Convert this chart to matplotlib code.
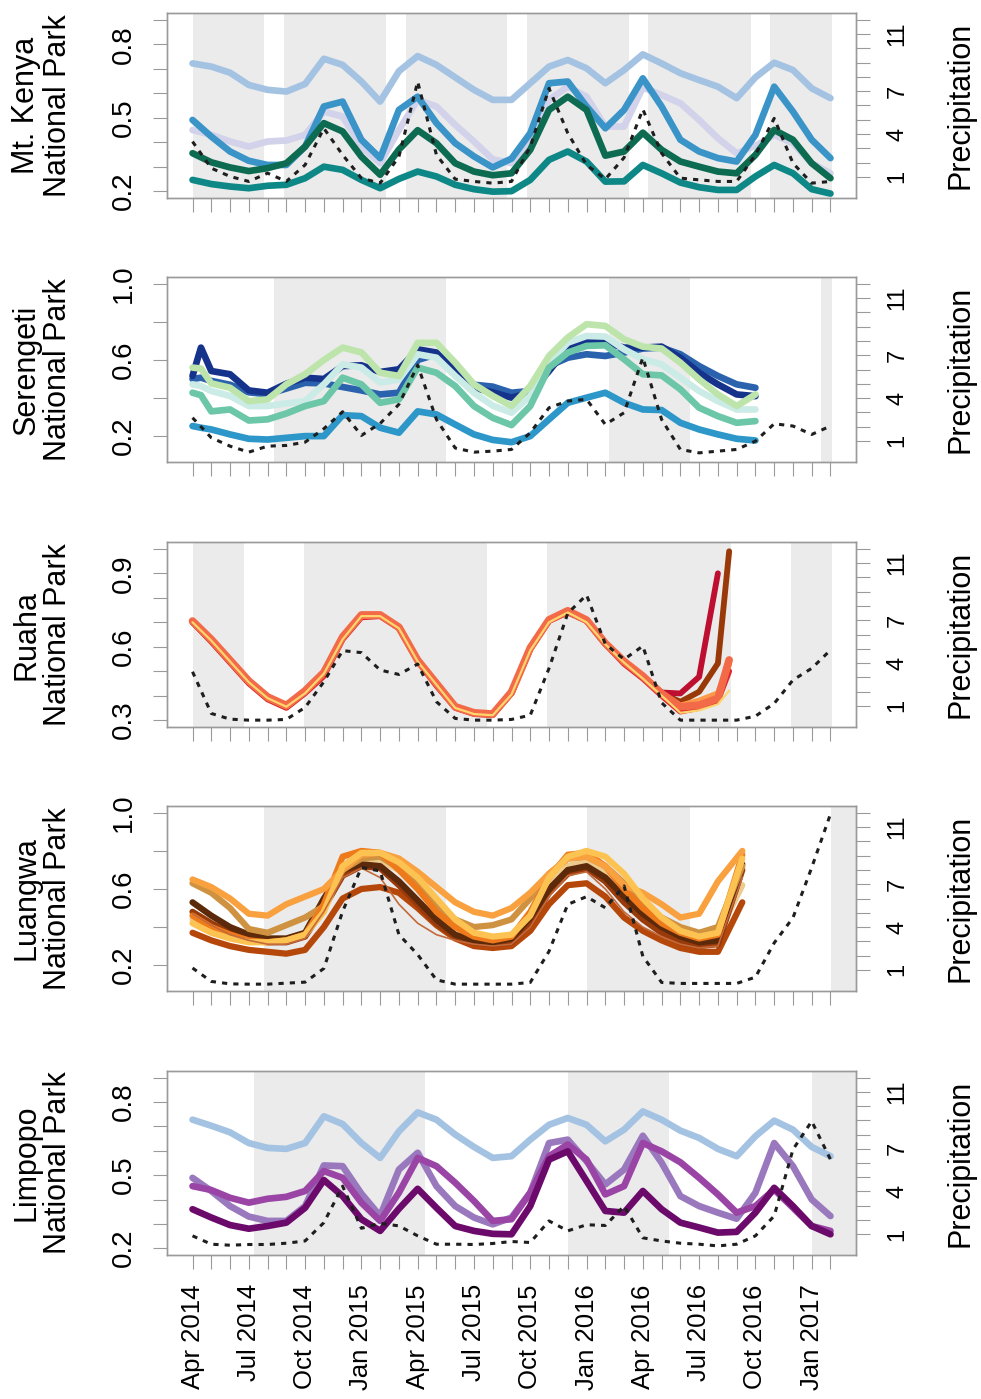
import matplotlib
matplotlib.use("Agg")
import matplotlib.pyplot as plt
import numpy as np

plt.rcParams['font.family'] = ['Liberation Sans', 'DejaVu Sans']

nan = np.nan

# month index: 0 = Apr 2014 ... 34 = Feb 2017
months = list(range(35))
date_labels = ["Apr 2014", "Jul 2014", "Oct 2014", "Jan 2015", "Apr 2015", "Jul 2015",
               "Oct 2015", "Jan 2016", "Apr 2016", "Jul 2016", "Oct 2016", "Jan 2017"]

# ---- Mt. Kenya ----
mk_months = list(range(35))
mk_lightblue = [0.722, 0.709, 0.684, 0.634, 0.614, 0.607, 0.638, 0.741, 0.716, 0.648, 0.566, 0.690,
                0.752, 0.716, 0.665, 0.614, 0.573, 0.573, 0.641, 0.709, 0.736, 0.702, 0.641, 0.695,
                0.759, 0.722, 0.682, 0.654, 0.627, 0.580, 0.665, 0.725, 0.695, 0.620, 0.580]
mk_blue = [0.491, 0.423, 0.362, 0.324, 0.307, 0.307, 0.382, 0.546, 0.566, 0.410, 0.335, 0.532,
           0.586, 0.478, 0.396, 0.342, 0.297, 0.333, 0.437, 0.641, 0.648, 0.546, 0.457, 0.532,
           0.661, 0.546, 0.410, 0.362, 0.335, 0.321, 0.430, 0.627, 0.525, 0.410, 0.335]
mk_lavender = [0.450, 0.430, 0.403, 0.382, 0.403, 0.407, 0.430, 0.525, 0.505, 0.382, 0.314, 0.450,
               0.573, 0.546, 0.471, 0.403, 0.330, 0.314, 0.410, 0.573, 0.627, 0.586, 0.464, 0.464,
               0.624, 0.593, 0.559, 0.491, 0.416, 0.355, 0.385, 0.430, 0.396, 0.314, 0.273]
mk_green = [0.355, 0.318, 0.297, 0.282, 0.294, 0.314, 0.382, 0.478, 0.444, 0.341, 0.267, 0.370,
            0.449, 0.396, 0.314, 0.280, 0.265, 0.273, 0.369, 0.532, 0.586, 0.532, 0.345, 0.362,
            0.439, 0.369, 0.321, 0.300, 0.280, 0.273, 0.348, 0.450, 0.410, 0.314, 0.253]
mk_teal = [0.246, 0.229, 0.219, 0.212, 0.222, 0.226, 0.253, 0.300, 0.287, 0.246, 0.212, 0.250,
           0.280, 0.260, 0.226, 0.208, 0.198, 0.200, 0.246, 0.328, 0.362, 0.321, 0.239, 0.240,
           0.307, 0.273, 0.235, 0.216, 0.205, 0.205, 0.260, 0.307, 0.273, 0.208, 0.190]
mk_rain = [3.47, 1.61, 1.03, 0.68, 1.26, 0.68, 1.84, 4.40, 2.54, 0.91, 0.56, 2.42,
           7.67, 2.54, 0.84, 0.68, 0.56, 0.68, 3.12, 7.20, 4.06, 1.84, 0.84, 2.35,
           5.73, 2.66, 0.91, 0.79, 0.68, 0.68, 2.54, 5.10, 1.96, 0.56, 0.68]
mk_bands = [(0, 3.8), (4.87, 10.3), (11.37, 16.77), (17.84, 23.24), (24.3, 29.74), (30.8, 34.06)]

# ---- Serengeti (extra mid-April 2014 composite) ----
ser_months = [0, 0.45] + list(range(1, 31))
ser_navy = [0.516, 0.665, 0.542, 0.525, 0.440, 0.428, 0.475, 0.507, 0.500, 0.568, 0.572, 0.537, 0.551,
            0.656, 0.639, 0.542, 0.454, 0.430, 0.402, 0.428, 0.542, 0.665, 0.700, 0.691, 0.665,
            0.665, 0.670, 0.612, 0.533, 0.472, 0.419, 0.410]
ser_royal = [0.500, 0.507, 0.490, 0.470, 0.430, 0.420, 0.450, 0.480, 0.477, 0.458, 0.440, 0.419, 0.428,
             0.600, 0.630, 0.550, 0.470, 0.460, 0.428, 0.437, 0.568, 0.612, 0.630, 0.621, 0.639,
             0.660, 0.665, 0.630, 0.568, 0.516, 0.472, 0.454]
ser_green = [0.560, 0.555, 0.477, 0.454, 0.384, 0.393, 0.472, 0.525, 0.600, 0.665, 0.640, 0.533, 0.516,
             0.690, 0.690, 0.586, 0.472, 0.411, 0.358, 0.463, 0.621, 0.718, 0.788, 0.779, 0.709,
             0.670, 0.660, 0.586, 0.498, 0.419, 0.358, 0.419]
ser_cyan = [0.472, 0.463, 0.437, 0.411, 0.358, 0.358, 0.372, 0.384, 0.472, 0.577, 0.560, 0.481, 0.498,
            0.630, 0.612, 0.516, 0.428, 0.360, 0.323, 0.411, 0.586, 0.691, 0.726, 0.723, 0.656,
            0.604, 0.577, 0.507, 0.437, 0.384, 0.340, 0.340]
ser_aqua = [0.428, 0.415, 0.330, 0.340, 0.282, 0.288, 0.319, 0.358, 0.384, 0.507, 0.472, 0.375, 0.393,
            0.560, 0.533, 0.463, 0.358, 0.296, 0.258, 0.358, 0.560, 0.639, 0.674, 0.677, 0.604,
            0.525, 0.519, 0.446, 0.349, 0.305, 0.270, 0.279]
ser_blue = [0.253, 0.244, 0.235, 0.209, 0.186, 0.182, 0.191, 0.200, 0.200, 0.310, 0.305, 0.244, 0.218,
            0.330, 0.314, 0.261, 0.209, 0.180, 0.168, 0.200, 0.288, 0.375, 0.402, 0.428, 0.375,
            0.340, 0.337, 0.270, 0.235, 0.209, 0.186, 0.177]
ser_rain = [2.62, 1.22, 0.63, 0.21, 0.63, 0.68, 0.91, 1.85, 3.04, 1.38, 2.22, 3.56,
            6.30, 2.50, 0.50, 0.21, 0.28, 0.40, 1.57, 3.32, 3.79, 3.91, 2.15, 2.97,
            6.83, 2.50, 0.40, 0.16, 0.28, 0.40, 0.98, 2.20, 2.04, 1.45, 2.04]
ser_bands = [(4.33, 13.5), (22.17, 26.5), (33.5, 34.06)]

# ---- Ruaha (last composite mid-August 2016) ----
ru_months = list(range(29)) + [28.6]
ru_coral = [0.705, 0.630, 0.545, 0.460, 0.395, 0.360, 0.420, 0.495, 0.640, 0.730, 0.730, 0.680,
            0.545, 0.450, 0.355, 0.330, 0.325, 0.415, 0.595, 0.710, 0.747, 0.709, 0.614, 0.540,
            0.480, 0.409, 0.355, 0.361, 0.389, 0.546]
ru_yellow = [0.700, 0.625, 0.540, 0.455, 0.390, 0.355, 0.410, 0.490, 0.630, 0.725, 0.725, 0.675,
             0.540, 0.445, 0.350, 0.325, 0.320, 0.405, 0.585, 0.700, 0.740, 0.700, 0.610, 0.535,
             0.470, 0.400, 0.330, 0.340, 0.365, 0.420]
ru_red = [0.700, 0.620, 0.535, 0.450, 0.385, 0.350, 0.410, 0.480, 0.630, 0.720, 0.725, 0.675,
          0.540, 0.440, 0.350, 0.325, 0.320, 0.410, 0.590, 0.705, 0.740, 0.705, 0.610, 0.530,
          0.470, 0.400, 0.335, 0.350, 0.380, 0.500]
ru_orange = [0.700, 0.625, 0.540, 0.455, 0.390, 0.355, 0.415, 0.490, 0.635, 0.725, 0.728, 0.678,
             0.543, 0.448, 0.352, 0.328, 0.322, 0.410, 0.590, 0.707, 0.744, 0.706, 0.612, 0.537,
             0.478, 0.410, 0.360, 0.380, 0.410, 0.530]
ru_brown = [0.700, 0.625, 0.540, 0.455, 0.390, 0.355, 0.420, 0.490, 0.635, 0.725, 0.728, 0.678,
            0.545, 0.450, 0.355, 0.330, 0.325, 0.410, 0.595, 0.708, 0.745, 0.708, 0.615, 0.540,
            0.480, 0.410, 0.375, 0.416, 0.532, 0.990]
ru_crimson = [0.700, 0.625, 0.540, 0.455, 0.390, 0.355, 0.415, 0.490, 0.635, 0.725, 0.728, 0.678,
              0.543, 0.448, 0.352, 0.328, 0.322, 0.410, 0.590, 0.707, 0.744, 0.706, 0.612, 0.537,
              0.477, 0.413, 0.409, 0.477, 0.900, nan]
ru_rain = [3.39, 0.47, 0.07, 0.00, 0.00, 0.05, 0.89, 2.69, 4.87, 4.73, 3.51, 3.20,
           3.93, 1.29, 0.12, 0.00, 0.00, 0.05, 0.35, 3.63, 7.49, 8.77, 5.33, 4.26,
           5.19, 1.22, 0.00, 0.00, 0.00, 0.00, 0.28, 1.17, 2.81, 3.63, 4.91]
ru_bands = [(0, 2.73), (5.94, 15.7), (18.9, 28.7), (31.9, 34.06)]

# ---- Luangwa (last composite early September 2016) ----
lu_months = list(range(29)) + [29.3]
lu_wheat = [0.44, 0.39, 0.35, 0.33, 0.32, 0.33, 0.36, 0.50, 0.70, 0.75, 0.75, 0.70, 0.60, 0.50, 0.41,
            0.36, 0.34, 0.35, 0.44, 0.62, 0.72, 0.75, 0.70, 0.60, 0.50, 0.42, 0.37, 0.34, 0.36, 0.62]
lu_rust = [0.37, 0.33, 0.30, 0.28, 0.27, 0.26, 0.28, 0.40, 0.55, 0.60, 0.61, 0.58, 0.50, 0.41, 0.34,
           0.30, 0.29, 0.30, 0.38, 0.52, 0.62, 0.63, 0.56, 0.45, 0.38, 0.33, 0.29, 0.27, 0.27, 0.53]
lu_brown = [0.48, 0.42, 0.37, 0.34, 0.32, 0.32, 0.35, 0.50, 0.67, 0.72, 0.71, 0.62, 0.52, 0.42, 0.35,
            0.32, 0.31, 0.32, 0.42, 0.58, 0.68, 0.71, 0.64, 0.53, 0.44, 0.37, 0.32, 0.30, 0.31, 0.70]
lu_thin = [0.47, 0.41, 0.36, 0.33, 0.31, 0.31, 0.34, 0.48, 0.66, 0.71, 0.66, 0.52, 0.42, 0.36, 0.33,
           0.31, 0.30, 0.31, 0.40, 0.56, 0.67, 0.69, 0.60, 0.48, 0.40, 0.35, 0.31, 0.29, 0.30, 0.66]
lu_darkbrown = [0.53, 0.46, 0.40, 0.36, 0.34, 0.34, 0.37, 0.55, 0.70, 0.73, 0.72, 0.64, 0.54, 0.44, 0.36,
                0.33, 0.32, 0.34, 0.45, 0.60, 0.70, 0.72, 0.66, 0.56, 0.47, 0.40, 0.35, 0.32, 0.33, 0.73]
lu_tan = [0.63, 0.58, 0.50, 0.39, 0.37, 0.41, 0.45, 0.51, 0.70, 0.76, 0.77, 0.71, 0.62, 0.51, 0.44,
          0.40, 0.41, 0.44, 0.55, 0.68, 0.76, 0.77, 0.72, 0.63, 0.53, 0.45, 0.40, 0.37, 0.40, 0.72]
lu_orange = [0.46, 0.40, 0.36, 0.33, 0.32, 0.33, 0.36, 0.52, 0.77, 0.80, 0.79, 0.70, 0.60, 0.48, 0.40,
             0.35, 0.33, 0.35, 0.48, 0.66, 0.78, 0.79, 0.72, 0.60, 0.50, 0.42, 0.37, 0.34, 0.36, 0.78]
lu_lightorange = [0.65, 0.61, 0.55, 0.47, 0.46, 0.52, 0.56, 0.60, 0.70, 0.78, 0.79, 0.76, 0.69, 0.61, 0.53,
                  0.48, 0.46, 0.50, 0.58, 0.68, 0.76, 0.77, 0.72, 0.62, 0.58, 0.52, 0.45, 0.47, 0.64, 0.80]
lu_amber = [0.42, 0.37, 0.34, 0.32, 0.32, 0.33, 0.36, 0.48, 0.72, 0.79, 0.79, 0.74, 0.66, 0.55, 0.44,
            0.37, 0.35, 0.36, 0.46, 0.66, 0.77, 0.80, 0.77, 0.68, 0.55, 0.45, 0.38, 0.35, 0.37, 0.76]
lu_rain = [1.13, 0.19, 0.02, 0.00, 0.00, 0.07, 0.14, 1.10, 5.10, 8.17, 7.93, 3.47,
           2.07, 0.30, 0.00, 0.00, 0.00, 0.00, 0.12, 2.30, 5.59, 6.13, 5.35, 6.88,
           1.95, 0.12, 0.05, 0.05, 0.05, 0.05, 0.49, 2.89, 4.65, 8.17, 11.92]
lu_bands = [(3.8, 13.5), (21.05, 26.5), (34.03, 36.0)]

# ---- Limpopo ----
li_months = list(range(35))
li_lightblue = [0.728, 0.703, 0.676, 0.632, 0.612, 0.608, 0.632, 0.742, 0.710, 0.632, 0.571, 0.680,
                0.758, 0.728, 0.667, 0.616, 0.571, 0.578, 0.646, 0.707, 0.735, 0.707, 0.639, 0.687,
                0.762, 0.728, 0.683, 0.653, 0.608, 0.578, 0.660, 0.724, 0.687, 0.616, 0.578]
li_lightpurple = [0.489, 0.435, 0.373, 0.330, 0.312, 0.312, 0.373, 0.540, 0.537, 0.424, 0.332, 0.523,
                  0.592, 0.455, 0.373, 0.326, 0.298, 0.326, 0.428, 0.632, 0.646, 0.557, 0.462, 0.523,
                  0.662, 0.551, 0.414, 0.373, 0.346, 0.321, 0.428, 0.632, 0.537, 0.400, 0.332]
li_purple = [0.455, 0.439, 0.407, 0.387, 0.403, 0.411, 0.435, 0.517, 0.489, 0.387, 0.312, 0.428,
             0.571, 0.537, 0.469, 0.394, 0.312, 0.319, 0.428, 0.578, 0.626, 0.564, 0.421, 0.455,
             0.632, 0.598, 0.553, 0.489, 0.421, 0.346, 0.373, 0.441, 0.366, 0.291, 0.271]
li_dark = [0.360, 0.326, 0.295, 0.280, 0.291, 0.305, 0.366, 0.480, 0.414, 0.319, 0.271, 0.362,
           0.444, 0.366, 0.291, 0.271, 0.259, 0.257, 0.373, 0.564, 0.598, 0.476, 0.353, 0.346,
           0.435, 0.360, 0.305, 0.285, 0.264, 0.267, 0.346, 0.448, 0.373, 0.291, 0.257]
li_rain = [0.87, 0.28, 0.21, 0.26, 0.26, 0.35, 0.51, 1.80, 4.37, 1.40, 1.75, 1.57,
           0.87, 0.28, 0.28, 0.26, 0.33, 0.47, 0.40, 1.92, 1.22, 1.65, 1.60, 2.97,
           0.73, 0.51, 0.35, 0.28, 0.16, 0.28, 0.87, 2.27, 6.95, 8.94, 6.25]
li_bands = [(3.26, 12.4), (20.0, 25.4), (33.0, 36.0)]

band_color = "#ebebeb"
frame_color = "#9a9a9a"
fig = plt.figure(figsize=(9.81, 13.99), dpi=100)

W, H = 981.0, 1399.0
left, right = 167 / W, 856 / W


def r_lim(lo, hi):
    pad = 0.04 * (hi - lo)
    return lo - pad, hi + pad


def draw_park(top, bot, name, x, lines, rain, bands, ylim, yticks, ylabels, last):
    ax = fig.add_axes([left, 1 - bot / H, right - left, (bot - top) / H])
    ax2 = ax.twinx()
    for a, b in bands:
        ax.axvspan(a, b, color=band_color, lw=0, zorder=0)
    for vals, col, lw in lines:
        ax.plot(x, vals, color=col, lw=lw, solid_capstyle='round',
                solid_joinstyle='round', zorder=2)
    ax2.plot(months, rain, color="#1e1e1e", lw=2.2, linestyle=(0, (1.7, 2.0)),
             dash_capstyle='butt', zorder=3)

    ax.set_xlim(r_lim(0, 34))
    ax.set_ylim(r_lim(*ylim))
    ax2.set_ylim(r_lim(0, 12))

    ax.set_yticks(yticks)
    ax.set_yticklabels([("%.1f" % t) if t in ylabels else "" for t in yticks])
    ax2.set_yticks(range(1, 13))
    ax2.set_yticklabels([str(t) if t in (1, 4, 7, 11) else "" for t in range(1, 13)])
    ax.set_xticks(months)
    if last:
        ax.set_xticklabels([date_labels[i // 3] if i % 3 == 0 else "" for i in months])
    else:
        ax.set_xticklabels([])

    for a in (ax, ax2):
        for s in a.spines.values():
            s.set_color(frame_color)
            s.set_linewidth(1.0)
    ax.tick_params(axis='y', length=10, width=0.8, color=frame_color, pad=12,
                   labelsize=20, labelrotation=90)
    ax2.tick_params(axis='y', length=10, width=0.8, color=frame_color, pad=12,
                    labelsize=17, labelrotation=90)
    ax.tick_params(axis='x', length=10, width=0.8, color=frame_color, pad=11,
                   labelsize=18.5, labelrotation=90)
    for lab in ax.get_yticklabels() + ax2.get_yticklabels():
        lab.set_va('center')

    yc = 1 - (top + bot) / 2 / H
    fig.text(42 / W, yc, name, rotation=90, ha='center', va='center',
             fontsize=22, linespacing=1.05, multialignment='center')
    fig.text(960 / W, yc, "Precipitation", rotation=90, ha='center', va='center',
             fontsize=22)


draw_park(13, 198, "Mt. Kenya\nNational Park", mk_months,
          [(mk_lightblue, "#a4c3e3", 4.8), (mk_lavender, "#d2d2ea", 4.8),
           (mk_blue, "#3a94c7", 4.8), (mk_green, "#0d6b52", 4.8), (mk_teal, "#0e8787", 4.8)],
          mk_rain, mk_bands, (0.2, 0.9), [0.2, 0.3, 0.4, 0.5, 0.6, 0.7, 0.8, 0.9],
          [0.2, 0.5, 0.8], False)

draw_park(277, 462, "Serengeti\nNational Park", ser_months,
          [(ser_royal, "#2b62ae", 4.8), (ser_navy, "#16338c", 4.8), (ser_cyan, "#cbebe6", 4.8),
           (ser_green, "#bde5ab", 4.8), (ser_aqua, "#6cc6a8", 4.8), (ser_blue, "#2c97c8", 4.8)],
          ser_rain, ser_bands, (0.1, 1.0), [0.2, 0.4, 0.6, 0.8, 1.0],
          [0.2, 0.6, 1.0], False)

draw_park(542, 727, "Ruaha\nNational Park", ru_months,
          [(ru_red, "#e0262c", 4.2), (ru_brown, "#993808", 4.2), (ru_crimson, "#be0f30", 4.2),
           (ru_orange, "#fd9a4a", 4.2), (ru_coral, "#f36a48", 5.5), (ru_yellow, "#ffd66e", 1.6)],
          ru_rain, ru_bands, (0.3, 1.0), [0.3, 0.4, 0.5, 0.6, 0.7, 0.8, 0.9, 1.0],
          [0.3, 0.6, 0.9], False)

draw_park(806, 991, "Luangwa\nNational Park", lu_months,
          [(lu_wheat, "#edcb8e", 4.5), (lu_rust, "#b5470b", 4.5), (lu_brown, "#983a0a", 4.5),
           (lu_darkbrown, "#5c2a0a", 4.5), (lu_tan, "#cf9240", 4.5), (lu_orange, "#ee7a1c", 4.5),
           (lu_lightorange, "#f9a03f", 4.5), (lu_amber, "#fdc352", 4.5),
           (lu_thin, "#c4693a", 1.2)],
          lu_rain, lu_bands, (0.1, 1.0), [0.2, 0.4, 0.6, 0.8, 1.0],
          [0.2, 0.6, 1.0], False)

draw_park(1071, 1255, "Limpopo\nNational Park", li_months,
          [(li_lightblue, "#a4c3e3", 4.8), (li_lightpurple, "#9a78be", 4.8),
           (li_purple, "#9a45a5", 4.8), (li_dark, "#6c0a6c", 4.8)],
          li_rain, li_bands, (0.2, 0.9), [0.2, 0.3, 0.4, 0.5, 0.6, 0.7, 0.8, 0.9],
          [0.2, 0.5, 0.8], True)

fig.savefig("out.png", dpi=100)
